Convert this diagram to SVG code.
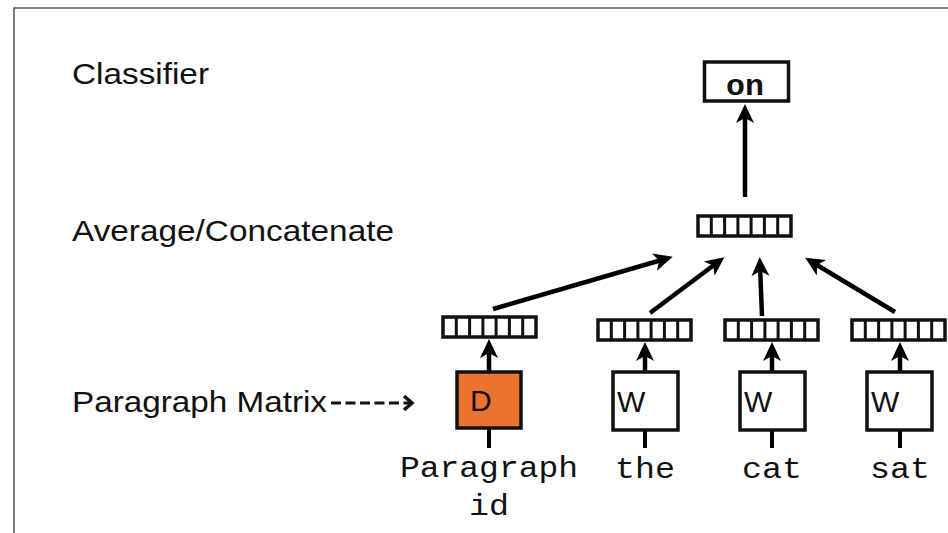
<svg xmlns="http://www.w3.org/2000/svg" width="948" height="533" viewBox="0 0 948 533">
  <style>
    .label { font-family: "Liberation Sans", Arial, sans-serif; font-size: 30px; fill: #111; }
    .mono { font-family: "Liberation Mono", "Courier New", monospace; font-size: 30px; fill: #111; }
    .box { fill: #fff; stroke: #111; stroke-width: 3.5; }
    .vec { fill: #fff; stroke: #111; stroke-width: 3.5; }
    .cell { stroke: #111; stroke-width: 3; }
    .edge { stroke: #000; stroke-width: 4.5; fill: none; marker-end: url(#head); }
    .stem { stroke: #000; stroke-width: 4; fill: none; }
  </style>
  <defs>
    <marker id="head" markerUnits="userSpaceOnUse" markerWidth="40" markerHeight="40" refX="0" refY="0" orient="auto" viewBox="-20 -20 40 40" overflow="visible">
      <path d="M8,0 L-11,-9 L-6,0 L-11,9 Z" fill="#000"/>
    </marker>
    <marker id="chevron" markerUnits="userSpaceOnUse" markerWidth="24" markerHeight="24" refX="0" refY="0" orient="auto" viewBox="-12 -12 24 24" overflow="visible">
      <path d="M-6,-7 L2,0 L-6,7" fill="none" stroke="#111" stroke-width="3.5"/>
    </marker>
    <!-- seven-cell embedding vector -->
    <g id="vector">
      <rect class="vec" x="0" y="0" width="93" height="20"/>
      <line class="cell" x1="13.3" y1="0" x2="13.3" y2="20"/>
      <line class="cell" x1="26.6" y1="0" x2="26.6" y2="20"/>
      <line class="cell" x1="39.9" y1="0" x2="39.9" y2="20"/>
      <line class="cell" x1="53.1" y1="0" x2="53.1" y2="20"/>
      <line class="cell" x1="66.4" y1="0" x2="66.4" y2="20"/>
      <line class="cell" x1="79.7" y1="0" x2="79.7" y2="20"/>
    </g>
  </defs>

  <rect x="0" y="0" width="948" height="533" fill="#fff"/>
  <!-- frame -->
  <path d="M14,533 L14,8 L948,8" fill="none" stroke="#5a5a5a" stroke-width="1.6"/>

  <!-- row labels -->
  <g id="row-labels">
    <text class="label" x="72" y="84" textLength="137" lengthAdjust="spacingAndGlyphs">Classifier</text>
    <text class="label" x="72" y="241" textLength="322" lengthAdjust="spacingAndGlyphs">Average/Concatenate</text>
    <text class="label" x="72" y="412" textLength="255" lengthAdjust="spacingAndGlyphs">Paragraph Matrix</text>
  </g>

  <!-- connectors -->
  <g id="connectors">
    <line x1="331" y1="403" x2="410" y2="403" stroke="#111" stroke-width="3.2" stroke-dasharray="10,4.5" marker-end="url(#chevron)"/>
    <line class="edge" x1="745" y1="197" x2="745" y2="112"/>
    <line class="edge" x1="493" y1="309" x2="665" y2="259"/>
    <line class="edge" x1="650" y1="313" x2="718" y2="262"/>
    <line class="edge" x1="762" y1="316" x2="760" y2="265"/>
    <line class="edge" x1="895" y1="312" x2="812" y2="262"/>
    <line class="edge" x1="489" y1="372" x2="489" y2="347"/>
    <line class="edge" x1="645" y1="372" x2="645" y2="350"/>
    <line class="edge" x1="772" y1="372" x2="772" y2="350"/>
    <line class="edge" x1="900" y1="372" x2="900" y2="350"/>
    <line class="stem" x1="489" y1="428" x2="489" y2="448"/>
    <line class="stem" x1="645" y1="430" x2="645" y2="448"/>
    <line class="stem" x1="772" y1="430" x2="772" y2="448"/>
    <line class="stem" x1="900" y1="430" x2="900" y2="448"/>
  </g>

  <!-- classifier output -->
  <g id="node-on">
    <rect class="box" x="704.5" y="62" width="84" height="39"/>
    <text class="mono" x="726" y="95" font-weight="bold" font-size="28" textLength="38" lengthAdjust="spacingAndGlyphs">on</text>
  </g>

  <!-- averaged / concatenated vector -->
  <g id="node-average">
    <use href="#vector" x="698" y="216"/>
  </g>

  <!-- paragraph vector and matrix -->
  <g id="node-paragraph">
    <use href="#vector" x="443" y="317"/>
    <rect x="457" y="372" width="64" height="56" fill="#EC7230" stroke="#111" stroke-width="3.5"/>
    <text class="label" x="470" y="411" font-size="28">D</text>
    <text class="mono" x="400" y="477" textLength="178" lengthAdjust="spacingAndGlyphs">Paragraph</text>
    <text class="mono" x="469" y="515" textLength="40" lengthAdjust="spacingAndGlyphs">id</text>
  </g>

  <!-- word "the" -->
  <g id="node-the">
    <use href="#vector" x="598" y="320"/>
    <rect class="box" x="613" y="372" width="65" height="58"/>
    <text class="label" x="617" y="412" font-size="29">W</text>
    <text class="mono" x="615" y="478" textLength="60" lengthAdjust="spacingAndGlyphs">the</text>
  </g>

  <!-- word "cat" -->
  <g id="node-cat">
    <use href="#vector" x="725" y="320"/>
    <rect class="box" x="740" y="372" width="65" height="58"/>
    <text class="label" x="744" y="412" font-size="29">W</text>
    <text class="mono" x="742" y="478" textLength="60" lengthAdjust="spacingAndGlyphs">cat</text>
  </g>

  <!-- word "sat" -->
  <g id="node-sat">
    <use href="#vector" x="852" y="320"/>
    <rect class="box" x="867" y="372" width="65" height="58"/>
    <text class="label" x="871" y="412" font-size="29">W</text>
    <text class="mono" x="870" y="478" textLength="60" lengthAdjust="spacingAndGlyphs">sat</text>
  </g>
</svg>
